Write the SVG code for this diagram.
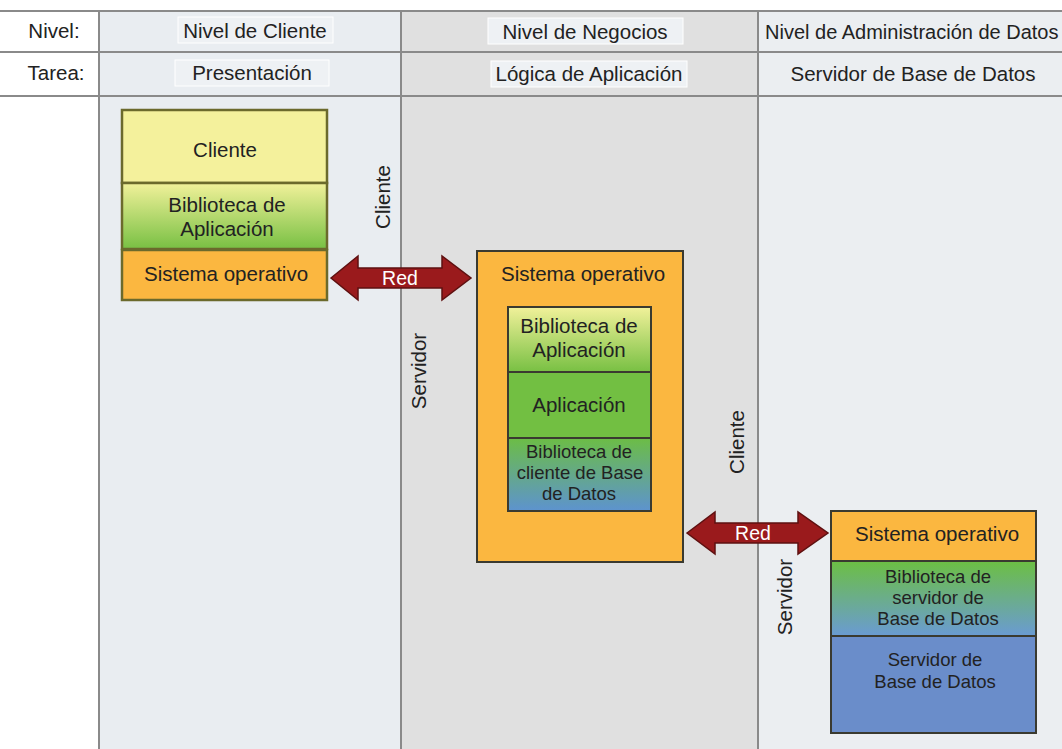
<svg xmlns="http://www.w3.org/2000/svg" width="1062" height="749" viewBox="0 0 1062 749">
<defs>
<linearGradient id="gYG" x1="0" y1="0" x2="0" y2="1"><stop offset="0" stop-color="#f1f19a"/><stop offset="1" stop-color="#78c043"/></linearGradient>
<linearGradient id="gGB" x1="0" y1="0" x2="0" y2="1"><stop offset="0" stop-color="#6cbd45"/><stop offset="1" stop-color="#5d93cf"/></linearGradient>
<linearGradient id="gGB2" x1="0" y1="0" x2="0" y2="1"><stop offset="0" stop-color="#6cbf43"/><stop offset="1" stop-color="#6a9bd3"/></linearGradient>
</defs>
<style>
text{font-family:"Liberation Sans",Arial,sans-serif;fill:#222;}
.h{font-size:20px;}
.b{font-size:20.5px;text-anchor:middle;}
.s{font-size:18.5px;text-anchor:middle;}
.v{font-size:20.5px;text-anchor:middle;}
.grid{stroke:#8a8a8a;stroke-width:2;fill:none;}
.lbl{fill:#eef1f4;stroke:#ffffff;stroke-width:1;}
.st1{stroke:#6b6a2c;stroke-width:2.5;}
.st2{stroke:#3a3a30;stroke-width:2;}
.arrow{fill:#9a1a1c;stroke:#5e1010;stroke-width:1.5;}
.aw{fill:#ffffff;font-size:19.5px;text-anchor:middle;}
</style>
<rect width="1062" height="749" fill="#ffffff"/>
<g id="background">
<rect x="99" y="11" width="302" height="738" fill="#e9edf1"/>
<rect x="401" y="11" width="357" height="738" fill="#e0e0e0"/>
<rect x="758" y="11" width="304" height="738" fill="#ebeef1"/>
<rect x="178" y="17" width="155" height="26" class="lbl"/>
<rect x="175" y="60" width="154" height="26" class="lbl"/>
<rect x="488" y="18" width="195" height="26" class="lbl" fill="#e6e6e6"/>
<rect x="491" y="61" width="196" height="26" class="lbl" fill="#e6e6e6"/>
<line x1="0" y1="11" x2="1062" y2="11" class="grid"/>
<line x1="0" y1="52" x2="1062" y2="52" class="grid"/>
<line x1="0" y1="96" x2="1062" y2="96" class="grid"/>
<line x1="99" y1="11" x2="99" y2="749" class="grid"/>
<line x1="401" y1="11" x2="401" y2="749" class="grid"/>
<line x1="758" y1="11" x2="758" y2="749" class="grid"/>
<text x="54" y="38" class="b">Nivel:</text>
<text x="56" y="80" class="b">Tarea:</text>
<text x="255" y="38" class="b">Nivel de Cliente</text>
<text x="252" y="80" class="b">Presentación</text>
<text x="585" y="39" class="b">Nivel de Negocios</text>
<text x="589" y="81" class="b">Lógica de Aplicación</text>
<text x="765" y="39" class="h">Nivel de Administración de Datos</text>
<text x="913" y="81" class="b">Servidor de Base de Datos</text>
<text transform="translate(390,197) rotate(-90)" class="v">Cliente</text>
<text transform="translate(426,371) rotate(-90)" class="v">Servidor</text>
<text transform="translate(744,442) rotate(-90)" class="v">Cliente</text>
<text transform="translate(792,597) rotate(-90)" class="v">Servidor</text>
</g>
<g id="cliente-stack">
<rect x="122" y="110" width="205" height="73" fill="#f4f19c" class="st1"/>
<rect x="122" y="183" width="205" height="66" fill="url(#gYG)" class="st1"/>
<rect x="122" y="250" width="205" height="50" fill="#fbb740" class="st1"/>
<text x="225" y="157" class="b">Cliente</text>
<text x="227" y="212" class="b">Biblioteca de</text>
<text x="227" y="236" class="b">Aplicación</text>
<text x="226" y="281" class="b">Sistema operativo</text>
</g>
<g id="negocios-stack">
<rect x="477" y="251" width="206" height="311" fill="#fbb740" class="st2" stroke="#6b5520"/>
<text x="583" y="281" class="b">Sistema operativo</text>
<rect x="508" y="307" width="143" height="65" fill="url(#gYG)" class="st2"/>
<rect x="508" y="372" width="143" height="66" fill="#72bf42" class="st2"/>
<rect x="508" y="438" width="143" height="73" fill="url(#gGB)" class="st2"/>
<text x="579" y="333" class="b">Biblioteca de</text>
<text x="579" y="357" class="b">Aplicación</text>
<text x="579" y="412" class="b">Aplicación</text>
<text x="579" y="458" class="s">Biblioteca de</text>
<text x="580" y="479" class="s">cliente de Base</text>
<text x="579" y="500" class="s">de Datos</text>
</g>
<g id="datos-stack">
<rect x="831" y="511" width="205" height="50" fill="#fbb740" class="st2"/>
<rect x="831" y="561" width="205" height="75" fill="url(#gGB2)" class="st2"/>
<rect x="831" y="636" width="205" height="97" fill="#6a8dca" class="st2"/>
<text x="937" y="541" class="b">Sistema operativo</text>
<text x="938" y="583" class="s">Biblioteca de</text>
<text x="938" y="604" class="s">servidor de</text>
<text x="938" y="625" class="s">Base de Datos</text>
<text x="935" y="666" class="s">Servidor de</text>
<text x="935" y="688" class="s">Base de Datos</text>
</g>
<g id="connectors">
<path class="arrow" d="M331,278 L358,256 L358,268 L442,268 L442,256 L471,278 L442,300 L442,288 L358,288 L358,300 Z"/>
<text x="400" y="285" class="aw">Red</text>
<path class="arrow" d="M687,533 L715,512 L715,523 L798,523 L798,512 L828,533 L798,554 L798,543 L715,543 L715,554 Z"/>
<text x="753" y="540" class="aw">Red</text>
</g>
</svg>
